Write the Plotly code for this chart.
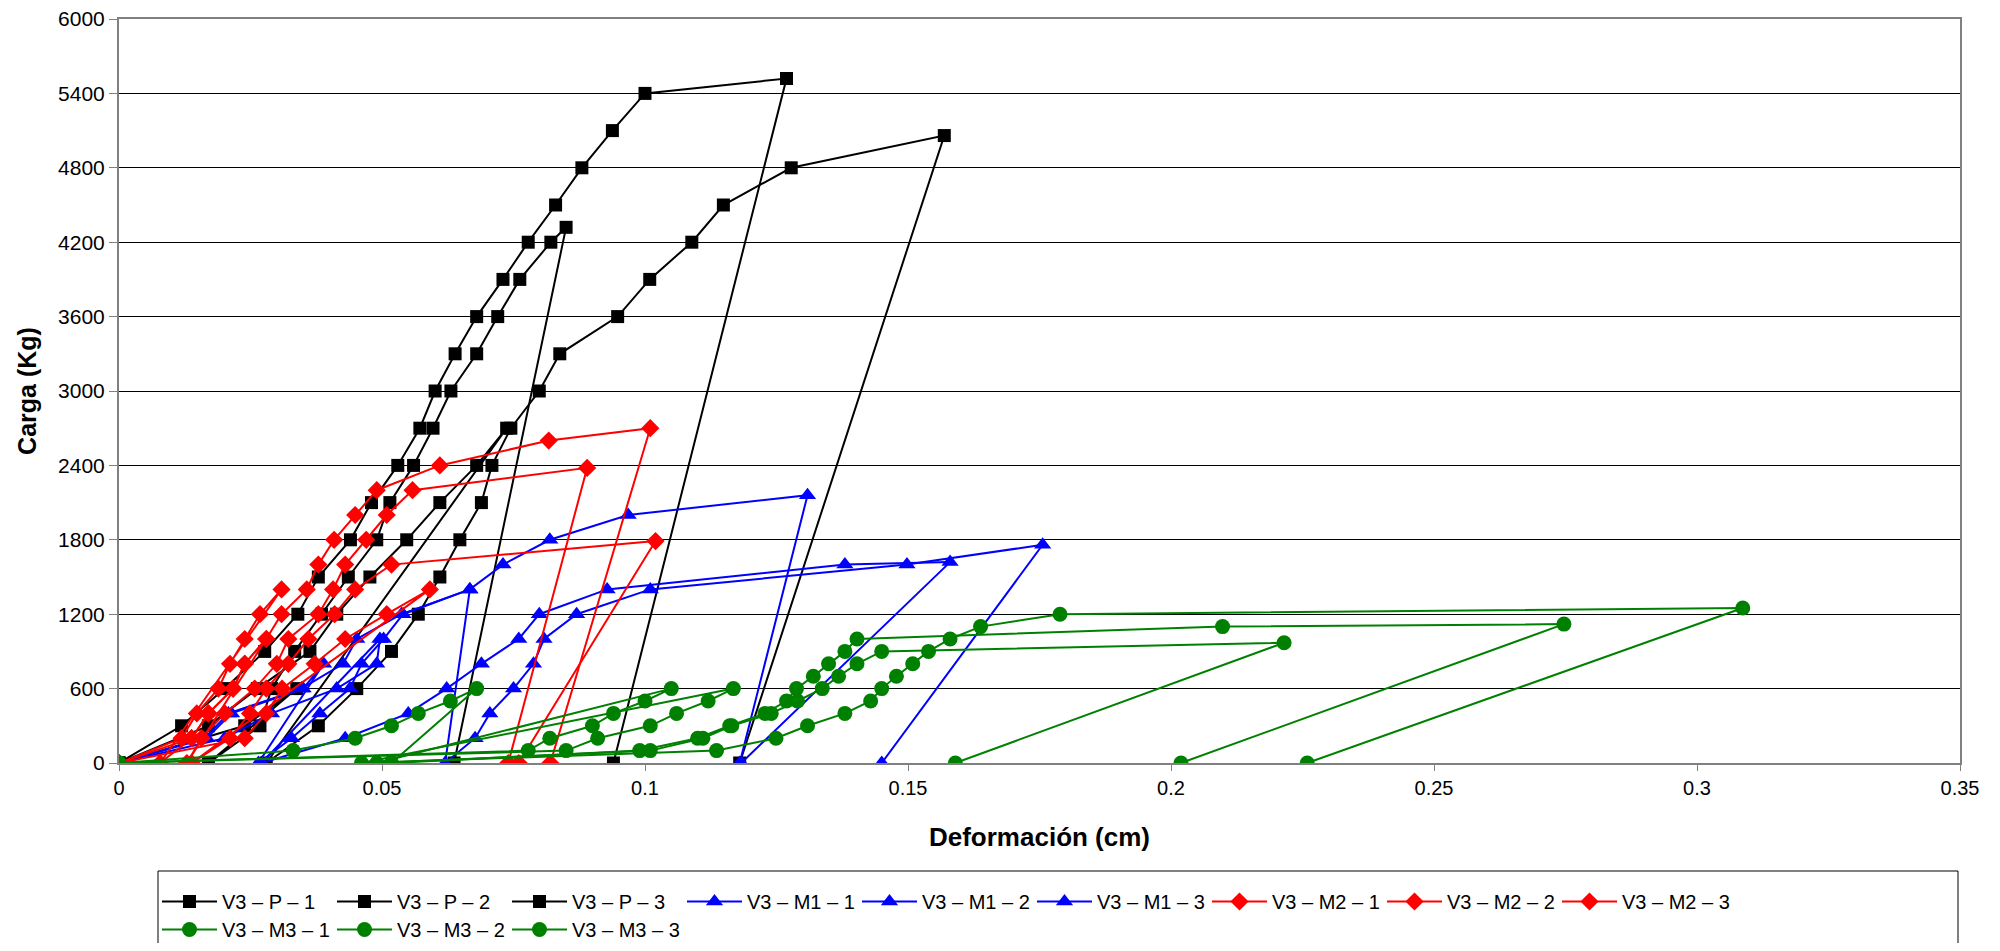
import plotly.graph_objects as go

# ---------------- data (deformation cm, load kg) ----------------
P1_x = [0, 0.0119, 0.0201, 0.0277, 0.034, 0.0379, 0.044, 0.048, 0.053, 0.0572, 0.0601, 0.0639, 0.068, 0.073, 0.0778, 0.083, 0.088, 0.0938, 0.1, 0.1269, 0.094]
P1_y = [0, 300, 600, 900, 1200, 1500, 1800, 2100, 2400, 2700, 3000, 3300, 3600, 3900, 4200, 4500, 4800, 5100, 5400, 5520, 0]

P2_x = [0, 0.0239, 0.0338, 0.017, 0.0268, 0.029, 0.0334, 0.0385, 0.0436, 0.049, 0.0515, 0.056, 0.0597, 0.0631, 0.068, 0.072, 0.0762, 0.0821, 0.085, 0.0637]
P2_y = [0, 300, 600, 0, 300, 600, 900, 1200, 1500, 1800, 2100, 2400, 2700, 3000, 3300, 3600, 3900, 4200, 4320, 0]

P3_x = [0, 0.017, 0.0263, 0.0363, 0.0414, 0.0477, 0.0547, 0.061, 0.068, 0.0737, 0.028, 0.0379, 0.0452, 0.0518, 0.0569, 0.061, 0.0648, 0.0689, 0.0709, 0.0745, 0.0799, 0.0838, 0.0948, 0.1009, 0.1089, 0.1149, 0.1278, 0.1569, 0.118]
P3_y = [0, 300, 600, 900, 1200, 1500, 1800, 2100, 2400, 2700, 0, 300, 600, 900, 1200, 1500, 1800, 2100, 2400, 2700, 3000, 3300, 3600, 3900, 4200, 4500, 4800, 5060, 0]

M1_1_x = [0, 0.0167, 0.0214, 0.035, 0.0389, 0.0265, 0.0328, 0.0382, 0.0439, 0.0461, 0.0503, 0.054, 0.0667, 0.073, 0.0819, 0.0968, 0.1309, 0.118]
M1_1_y = [0, 200, 400, 600, 800, 0, 200, 400, 600, 800, 1000, 1200, 1400, 1600, 1800, 2000, 2160, 0]

M1_2_x = [0, 0.0201, 0.029, 0.0414, 0.049, 0.0496, 0.0271, 0.043, 0.055, 0.0623, 0.0689, 0.076, 0.0799, 0.0928, 0.138, 0.158, 0.1183]
M1_2_y = [0, 200, 400, 600, 800, 1000, 0, 200, 400, 600, 800, 1000, 1200, 1400, 1600, 1620, 0]

M1_3_x = [0, 0.0163, 0.0208, 0.0347, 0.0426, 0.0452, 0.0537, 0.0667, 0.062, 0.0677, 0.0705, 0.075, 0.0788, 0.0808, 0.087, 0.101, 0.1498, 0.1756, 0.145]
M1_3_y = [0, 200, 400, 600, 800, 1000, 1200, 1400, 0, 200, 400, 600, 800, 1000, 1200, 1400, 1600, 1760, 0]

M2_1_x = [0, 0.0119, 0.0148, 0.0189, 0.0211, 0.0239, 0.0268, 0.0309, 0.0078, 0.0138, 0.017, 0.0217, 0.0239, 0.028, 0.0309, 0.0357, 0.0379, 0.0409, 0.0449, 0.049, 0.061, 0.0817, 0.101, 0.082]
M2_1_y = [0, 200, 400, 600, 800, 1000, 1200, 1400, 0, 200, 400, 600, 800, 1000, 1200, 1400, 1600, 1800, 2000, 2200, 2400, 2600, 2700, 0]

M2_2_x = [0, 0.0138, 0.017, 0.0217, 0.0239, 0.028, 0.0129, 0.0157, 0.0201, 0.0258, 0.03, 0.0322, 0.0379, 0.0407, 0.043, 0.047, 0.0509, 0.0558, 0.089, 0.074]
M2_2_y = [0, 200, 400, 600, 800, 1000, 0, 200, 400, 600, 800, 1000, 1200, 1400, 1600, 1800, 2000, 2200, 2380, 0]

M2_3_x = [0, 0.0239, 0.028, 0.031, 0.0372, 0.043, 0.0509, 0.0591, 0.0138, 0.0211, 0.0249, 0.028, 0.0322, 0.036, 0.041, 0.0449, 0.0518, 0.102, 0.076]
M2_3_y = [0, 200, 400, 600, 800, 1000, 1200, 1400, 0, 200, 400, 600, 800, 1000, 1200, 1400, 1600, 1790, 0]

M3_1_x = [0, 0.0331, 0.0449, 0.0518, 0.0569, 0.063, 0.068, 0.0518, 0.099, 0.110, 0.1161, 0.1228, 0.1269, 0.1288, 0.132, 0.1349, 0.138, 0.1403, 0.2098, 0.2747, 0.2019]
M3_1_y = [0, 100, 200, 300, 400, 500, 600, 0, 100, 200, 300, 400, 500, 600, 700, 800, 900, 1000, 1100, 1120, 0]

M3_2_x = [0, 0.0778, 0.0819, 0.09, 0.094, 0.1, 0.105, 0.049, 0.101, 0.111, 0.1165, 0.124, 0.129, 0.1337, 0.1368, 0.1403, 0.145, 0.2215, 0.159]
M3_2_y = [0, 100, 200, 300, 400, 500, 600, 0, 100, 200, 300, 400, 500, 600, 700, 800, 900, 970, 0]

M3_3_x = [0, 0.085, 0.091, 0.101, 0.106, 0.112, 0.1168, 0.0461, 0.1136, 0.1249, 0.1309, 0.138, 0.1429, 0.145, 0.1478, 0.1509, 0.1539, 0.158, 0.1638, 0.1789, 0.3087, 0.2259]
M3_3_y = [0, 100, 200, 300, 400, 500, 600, 0, 100, 200, 300, 400, 500, 600, 700, 800, 900, 1000, 1100, 1200, 1250, 0]

series_names = ["V3 – P – 1", "V3 – P – 2", "V3 – P – 3",
                "V3 – M1 – 1", "V3 – M1 – 2", "V3 – M1 – 3",
                "V3 – M2 – 1", "V3 – M2 – 2", "V3 – M2 – 3",
                "V3 – M3 – 1", "V3 – M3 – 2", "V3 – M3 – 3"]
series_x = [P1_x, P2_x, P3_x, M1_1_x, M1_2_x, M1_3_x, M2_1_x, M2_2_x, M2_3_x, M3_1_x, M3_2_x, M3_3_x]
series_y = [P1_y, P2_y, P3_y, M1_1_y, M1_2_y, M1_3_y, M2_1_y, M2_2_y, M2_3_y, M3_1_y, M3_2_y, M3_3_y]

x_ticks = [0, 0.05, 0.1, 0.15, 0.2, 0.25, 0.3, 0.35]
x_tick_labels = ["0", "0.05", "0.1", "0.15", "0.2", "0.25", "0.3", "0.35"]
y_ticks = [0, 600, 1200, 1800, 2400, 3000, 3600, 4200, 4800, 5400, 6000]

# ---------------- styles ----------------
group_style = {
    "P": dict(color="#000000", symbol="square", size=13),
    "M1": dict(color="#0000FF", symbol="triangle-up", size=15),
    "M2": dict(color="#FF0000", symbol="diamond", size=14),
    "M3": dict(color="#008000", symbol="circle", size=15),
}
groups = ["P"] * 3 + ["M1"] * 3 + ["M2"] * 3 + ["M3"] * 3

# figure is 16 px smaller than the window to absorb the page's 8 px body margin
W, H = 1984, 935
ML, MR, MT, MB = 111, 32, 11, 180
PW, PH = W - ML - MR, H - MT - MB


def px_x(p):
    return (p - ML) / PW


def px_y(p):
    return (H - MB - p) / PH


fig = go.Figure()
for i, (name, xs, ys, g) in enumerate(zip(series_names, series_x, series_y, groups)):
    st = group_style[g]
    fig.add_trace(go.Scatter(
        x=xs, y=ys, mode="lines+markers", name=name,
        line=dict(color=st["color"], width=2),
        marker=dict(color=st["color"], symbol=st["symbol"], size=st["size"], line=dict(width=0)),
        legend="legend" if i < 9 else "legend2",
    ))

font_family = "Liberation Sans, Arial, sans-serif"
legend_common = dict(
    orientation="h", xanchor="left", yanchor="top",
    bgcolor="rgba(0,0,0,0)", borderwidth=0,
    font=dict(size=20, family=font_family, color="black"),
    entrywidth=105, entrywidthmode="pixels", itemwidth=55,
)
fig.update_layout(
    width=W, height=H,
    margin=dict(l=ML, r=MR, t=MT, b=MB, autoexpand=False),
    paper_bgcolor="white", plot_bgcolor="white",
    font=dict(family=font_family, size=20, color="black"),
    showlegend=True,
    legend=dict(x=px_x(149), y=px_y(874), **legend_common),
    legend2=dict(x=px_x(149), y=px_y(902), **legend_common),
    shapes=[dict(type="rect", xref="paper", yref="paper",
                 x0=px_x(150), x1=px_x(1950), y0=px_y(863), y1=px_y(975),
                 line=dict(color="black", width=1), fillcolor="rgba(0,0,0,0)")],
)
fig.update_xaxes(
    range=[0, 0.35], tickvals=x_ticks, ticktext=x_tick_labels,
    showgrid=False, zeroline=False, automargin=False,
    showline=True, linecolor="#808080", linewidth=2, mirror=True,
    ticks="outside", ticklen=6, tickcolor="#808080",
    title=dict(text="<b>Deformación (cm)</b>", font=dict(size=26), standoff=30),
    tickfont=dict(size=20), ticklabeloverflow="allow",
)
fig.update_yaxes(
    range=[0, 6000], tickvals=y_ticks,
    showgrid=True, gridcolor="#000000", gridwidth=1, zeroline=False, automargin=False,
    showline=True, linecolor="#808080", linewidth=2, mirror=True,
    ticks="outside", ticklen=8, tickcolor="#808080",
    title=dict(text="<b>Carga (Kg)</b>", font=dict(size=25), standoff=14),
    tickfont=dict(size=21), ticklabeloverflow="allow",
)

fig.write_html("out.html")
